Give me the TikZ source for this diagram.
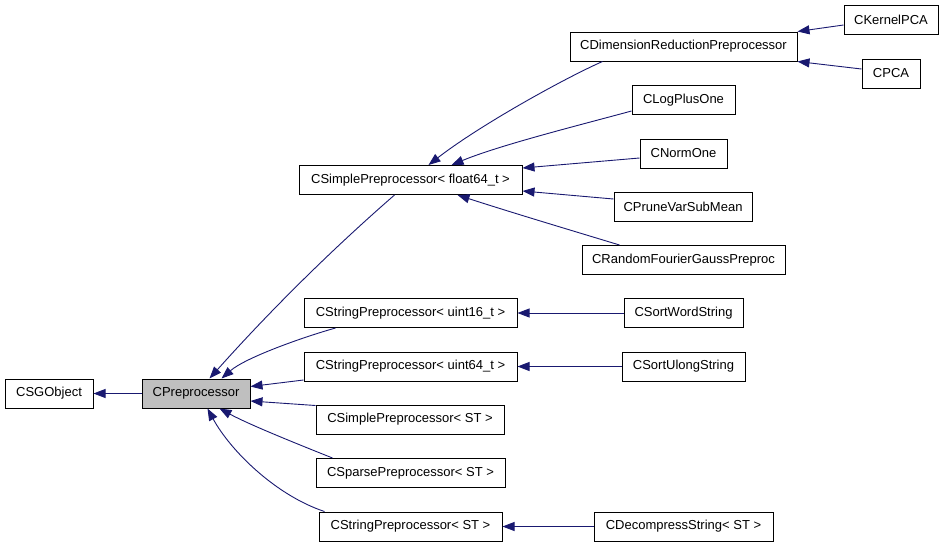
\documentclass[tikz,border=0pt]{standalone}
\usepackage{fontspec}
\setmainfont{Liberation Sans}
\usetikzlibrary{arrows.meta,calc}
\definecolor{dep}{HTML}{191970}
\definecolor{cur}{HTML}{BFBFBF}

\begin{document}
\begin{tikzpicture}[x=1pt,y=-1pt,
    cls/.style={draw=black,line width=1pt,fill=white,inner sep=0pt,minimum height=29pt,
      font=\fontsize{13}{15}\selectfont},
    inh/.style={draw=dep,line width=0.9pt,-{Triangle[length=12pt,width=9pt]}}]
  \useasboundingbox (0,0) rectangle (944,547);
  \node[cls,minimum width=88pt] (SGO) at (49,393.5) {CSGObject};
  \node[cls,fill=cur,minimum width=108pt] (Pre) at (196,393.5) {CPreprocessor};
  \node[cls,minimum width=223pt] (SpF) at (410.5,180) {CSimplePreprocessor< float64\_t >};
  \node[cls,minimum width=227pt] (DRP) at (683.5,46.5) {CDimensionReductionPreprocessor};
  \node[cls,minimum width=94pt] (KPCA) at (891,19.5) {CKernelPCA};
  \node[cls,minimum width=58pt] (PCA) at (891,73.5) {CPCA};
  \node[cls,minimum width=103pt] (LPO) at (683.5,100) {CLogPlusOne};
  \node[cls,minimum width=87pt] (NO) at (683.5,153.5) {CNormOne};
  \node[cls,minimum width=138pt] (PVS) at (683,206.5) {CPruneVarSubMean};
  \node[cls,minimum width=203pt] (RFG) at (683.5,260) {CRandomFourierGaussPreproc};
  \node[cls,minimum width=213pt] (St16) at (410.5,313) {CStringPreprocessor< uint16\_t >};
  \node[cls,minimum width=119pt] (SWS) at (683.5,313) {CSortWordString};
  \node[cls,minimum width=213pt] (St64) at (410.5,366.5) {CStringPreprocessor< uint64\_t >};
  \node[cls,minimum width=123pt] (SUS) at (683.5,366.5) {CSortUlongString};
  \node[cls,minimum width=188pt] (SpST) at (410,419.5) {CSimplePreprocessor< ST >};
  \node[cls,minimum width=189pt] (SpaST) at (410.5,473) {CSparsePreprocessor< ST >};
  \node[cls,minimum width=183pt] (StST) at (410.5,526.5) {CStringPreprocessor< ST >};
  \node[cls,minimum width=179pt] (DcST) at (683.5,526.5) {CDecompressString< ST >};

  \draw[inh] (Pre) -- (SGO);
  \draw[inh] ($(SpF.south west)+(96,0)$) .. controls (329,252) and (268,313) .. ($(Pre.north west)+(68,0)$);
  \draw[inh] ($(St16.south west)+(32,0)$) .. controls (300,338) and (245,358) .. ($(Pre.north west)+(80,0)$);
  \draw[inh] ($(St64.south west)+(0,-1.5)$) -- ($(Pre.east)+(0,-7)$);
  \draw[inh] ($(SpST.north west)+(0,1)$) -- ($(Pre.east)+(0,7.5)$);
  \draw[inh] ($(SpaST.north west)+(17,0)$) .. controls (300,445) and (250,425) .. ($(Pre.south west)+(78,0)$);
  \draw[inh] ($(StST.north west)+(6,0)$) .. controls (275,495) and (230,450) .. ($(Pre.south west)+(66,0)$);

  \draw[inh] ($(DRP.south west)+(33,0)$) .. controls (565,78) and (480,125) .. ($(SpF.north west)+(130,0)$);
  \draw[inh] ($(LPO.west)+(0,11)$) .. controls (580,125) and (500,145) .. ($(SpF.north west)+(153,0)$);
  \draw[inh] ($(NO.west)+(0,4.5)$) -- ($(SpF.east)+(0,-12)$);
  \draw[inh] ($(PVS.west)+(0,-7.5)$) -- ($(SpF.east)+(0,11)$);
  \draw[inh] ($(RFG.north west)+(38,0)$) .. controls (570,230) and (510,212) .. ($(SpF.south west)+(159,0)$);

  \draw[inh] ($(KPCA.west)+(0,5.5)$) -- (DRP.north east);
  \draw[inh] ($(PCA.west)+(0,-4.5)$) -- (DRP.south east);
  \foreach \a/\b in {SWS/St16,SUS/St64,DcST/StST}
    \draw[inh] (\a) -- (\b);
\end{tikzpicture}
\end{document}
